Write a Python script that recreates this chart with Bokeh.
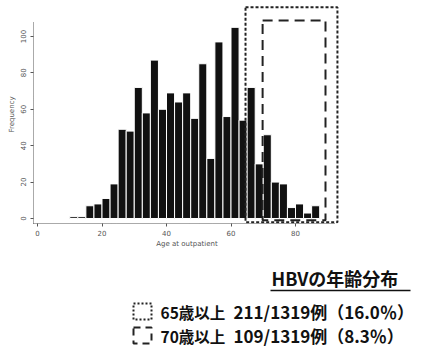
from bokeh.plotting import figure
from bokeh.models import Range1d, FixedTicker, BoxAnnotation, Label
from bokeh.layouts import column
from bokeh.embed import file_html
from bokeh.resources import INLINE

# Age histogram of HBV outpatients (2.5-year bins)
bin_starts = [10.0, 12.5, 15.0, 17.5, 20.0, 22.5, 25.0, 27.5, 30.0, 32.5,
              35.0, 37.5, 40.0, 42.5, 45.0, 47.5, 50.0, 52.5, 55.0, 57.5,
              60.0, 62.5, 65.0, 67.5, 70.0, 72.5, 75.0, 77.5, 80.0, 82.5, 85.0]
counts = [1, 1, 7, 8, 11, 19, 49, 48, 72, 58,
          87, 60, 69, 64, 69, 55, 85, 33, 97, 56,
          105, 54, 72, 30, 46, 20, 19, 6, 8, 3, 7]
bin_width = 2.5

x_ticks = [0, 20, 40, 60, 80]
y_ticks = [0, 20, 40, 60, 80, 100]

age_cut_a = 65
age_cut_b = 70

total = sum(counts)
n_a = sum(c for s, c in zip(bin_starts, counts) if s >= age_cut_a)
n_b = sum(c for s, c in zip(bin_starts, counts) if s >= age_cut_b)

FONT = "DejaVu Sans"
JP = "Noto Sans CJK JP"
AXIS_GREY = "#555555"
INK = "#111111"

p = figure(width=428, height=250, output_backend="svg", toolbar_location=None,
           x_range=Range1d(-1.24, 93.95), y_range=Range1d(-2.75, 117.0),
           min_border_left=33, min_border_right=88, min_border_top=5,
           min_border_bottom=27)
p.frame_align = False
p.outline_line_color = None
p.xgrid.visible = False
p.ygrid.visible = False

centers = [s + bin_width / 2 for s in bin_starts]
p.vbar(x=centers, top=counts, bottom=0, width=bin_width,
       fill_color=INK, line_color="white", line_width=1)

for ax, ticks, bounds in ((p.xaxis[0], x_ticks, (-1.24, 92.5)),
                          (p.yaxis[0], y_ticks, (-2.75, 108))):
    ax.ticker = FixedTicker(ticks=ticks)
    ax.bounds = bounds
    ax.axis_line_color = AXIS_GREY
    ax.axis_line_dash = "1 1"
    ax.axis_line_width = 1
    ax.major_tick_line_color = AXIS_GREY
    ax.major_tick_out = 3
    ax.major_tick_in = 0
    ax.minor_tick_line_color = None
    ax.major_label_text_font = FONT
    ax.major_label_text_font_size = "7px"
    ax.major_label_text_color = AXIS_GREY
    ax.axis_label_text_font = FONT
    ax.axis_label_text_font_size = "7px"
    ax.axis_label_text_color = AXIS_GREY
    ax.axis_label_text_font_style = "normal"

p.xaxis.axis_label = "Age at outpatient"
p.xaxis.major_label_standoff = 3
p.xaxis.axis_label_standoff = 1
p.yaxis.axis_label = "Frequency"
p.yaxis.major_label_orientation = "vertical"
p.yaxis.major_label_standoff = 4
p.yaxis.axis_label_standoff = 2

# regions for the two age thresholds
p.add_layout(BoxAnnotation(left=age_cut_a - 0.5, right=93.0, bottom=-2.0, top=116.0,
                           fill_color=None, fill_alpha=0, line_color="#222222",
                           line_alpha=1, line_width=2, line_dash="3 2"))
p.add_layout(BoxAnnotation(left=age_cut_b - 0.2, right=89.3, bottom=-1.0, top=108.8,
                           fill_color=None, fill_alpha=0, line_color="#222222",
                           line_alpha=1, line_width=2, line_dash="10 6"))

# legend panel below the histogram
q = figure(width=428, height=100, output_backend="svg", toolbar_location=None,
           x_range=Range1d(0, 428), y_range=Range1d(100, 0), min_border=0)
q.frame_align = False
q.axis.visible = False
q.xgrid.visible = False
q.ygrid.visible = False
q.outline_line_color = None

q.add_layout(Label(x=271, y=27, text="HBVの年齢分布", text_font=JP,
                   text_font_size="18px", text_font_style="bold",
                   text_baseline="middle", text_align="left", text_color=INK))
q.line(x=[270, 410], y=[40, 40], line_color=INK, line_width=1.5)

q.add_layout(BoxAnnotation(left=133, right=151, top=53, bottom=69,
                           fill_color=None, fill_alpha=0, line_color="#222222",
                           line_alpha=1, line_width=2, line_dash="2 2"))
q.add_layout(BoxAnnotation(left=133, right=151, top=77, bottom=93,
                           fill_color=None, fill_alpha=0, line_color="#222222",
                           line_alpha=1, line_width=2, line_dash="7 5"))

rows = [(61, f"{age_cut_a}歳以上", f"{n_a}/{total}例（{100 * n_a / total:.1f}％）"),
        (85, f"{age_cut_b}歳以上", f"{n_b}/{total}例（{100 * n_b / total:.1f}％）")]
for yy, head, tail in rows:
    q.add_layout(Label(x=160, y=yy, text=head, text_font=JP,
                       text_font_size="15.5px", text_font_style="bold",
                       text_baseline="middle", text_align="left", text_color=INK))
    q.add_layout(Label(x=233, y=yy, text=tail, text_font=JP,
                       text_font_size="17px", text_font_style="bold",
                       text_baseline="middle", text_align="left", text_color=INK))

layout = column(p, q, spacing=0)
open("out.html", "w").write(file_html(layout, INLINE))
